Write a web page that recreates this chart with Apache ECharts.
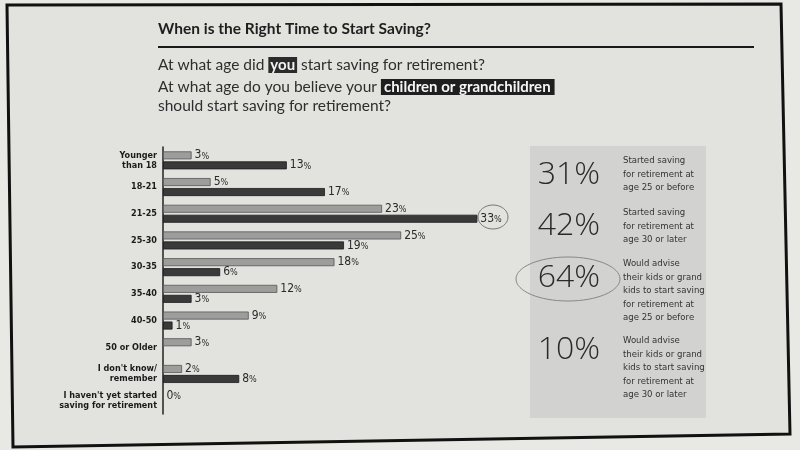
<!DOCTYPE html>
<html><head><meta charset="utf-8">
<script src="https://cdn.jsdelivr.net/npm/echarts@6/dist/echarts.min.js"></script>
<style>html,body{margin:0;padding:0;background:#e6e6e2;}#c{width:800px;height:450px;}</style>
</head><body><div id="c"></div>
<script>
const categories = ['Younger\nthan 18','18-21','21-25','25-30','30-35','35-40','40-50','50 or Older','I don\'t know/\nremember','I haven\'t yet started\nsaving for retirement'];
const youValues = [3,5,23,25,18,12,9,3,2,0];
const kidsValues = [13,17,33,19,6,3,1,null,8,null];
const statNumbers = ['31%','42%','64%','10%'];
const statTexts = [
  'Started saving\nfor retirement at\nage 25 or before',
  'Started saving\nfor retirement at\nage 30 or later',
  'Would advise\ntheir kids or grand\nkids to start saving\nfor retirement at\nage 25 or before',
  'Would advise\ntheir kids or grand\nkids to start saving\nfor retirement at\nage 30 or later'
];

const chart = echarts.init(document.getElementById('c'));
const condensed = '"Liberation Sans Narrow","DejaVu Sans Condensed","Roboto",sans-serif';
const pctLabel = {
  show: true, position: 'right', distance: 3,
  formatter: p => p.value == null ? '' : '{n|' + p.value + '}{p|%}',
  rich: {
    n: {fontFamily: condensed, fontSize: 12, color: '#2a2a2a'},
    p: {fontFamily: condensed, fontSize: 9, color: '#2a2a2a', padding: [2,0,0,0]}
  }
};
const numY = [175, 226, 278, 350];
const txtY = [160, 212, 263, 340];
const subFont = '15.5px Lato, "Open Sans", sans-serif';
const graphics = [
  {type:'polygon', z:0, shape:{points:[[7,5],[781,4],[790,434],[13,447]]}, style:{fill:'#e2e2de', stroke:'#111', lineWidth:3}},
  {type:'text', left:158, top:21, style:{text:'When is the Right Time to Start Saving?', font:'bold 15.5px Lato, "Open Sans", sans-serif', fill:'#1e1e1e'}},
  {type:'line', shape:{x1:158,y1:47,x2:754,y2:47}, style:{stroke:'#1a1a1a', lineWidth:2}},
  {type:'text', left:158, top:57, style:{
    text:'At what age did {hl|you} start saving for retirement?',
    font:subFont, fill:'#2e2e2e',
    rich:{hl:{backgroundColor:'#2b2b2b', fill:'#f2f2f2', fontWeight:'bold', fontSize:15, fontFamily:'Lato, sans-serif', padding:[1,2,0,2]}}}},
  {type:'text', left:158, top:79, style:{
    text:'At what age do you believe your {hl|children or grandchildren}',
    font:subFont, fill:'#2e2e2e',
    rich:{hl:{backgroundColor:'#1f1f1f', fill:'#f5f5f5', fontWeight:'bold', fontSize:15, fontFamily:'Lato, sans-serif', padding:[1,4,0,3]}}}},
  {type:'text', left:158, top:98, style:{text:'should start saving for retirement?', font:subFont, fill:'#2e2e2e'}},
  {type:'rect', shape:{x:530,y:146,width:176,height:272}, style:{fill:'#d2d2d0'}},
  {type:'ellipse', shape:{cx:493,cy:217,rx:15,ry:12}, style:{fill:'none', stroke:'#777', lineWidth:1}},
  {type:'ellipse', shape:{cx:568,cy:279,rx:52,ry:22}, style:{fill:'none', stroke:'#888', lineWidth:1}}
];
statNumbers.forEach((s,i)=>{
  graphics.push({type:'text', x:569, y:numY[i], style:{text:s, font:'300 32px "Open Sans", Lato, sans-serif', fill:'#2a2a2a', align:'center', verticalAlign:'middle'}});
  graphics.push({type:'text', x:623, y:txtY[i]-6, style:{text:statTexts[i], font:'9.5px ' + condensed, fill:'#333', lineHeight:13.5}});
});

chart.setOption({
  backgroundColor:'#e8e8e4',
  animation:false,
  grid:{left:163, top:147, width:381, height:267, containLabel:false},
  xAxis:{type:'value', min:0, max:40, show:false},
  yAxis:{type:'category', data:categories, inverse:true,
    axisLine:{show:true, lineStyle:{color:'#222', width:1.5}},
    axisTick:{show:false},
    axisLabel:{margin:6, fontFamily:condensed, fontWeight:'bold', fontSize:9, color:'#1a1a1a', lineHeight:10, align:'right'}},
  series:[
    {name:'You', type:'bar', data:youValues, barWidth:8, barGap:'25%',
     itemStyle:{color:'#9d9d9b', borderColor:'#555', borderWidth:0.8}, label:pctLabel},
    {name:'Children or grandchildren', type:'bar', data:kidsValues, barWidth:8,
     itemStyle:{color:'#3a3a3a', borderColor:'#1a1a1a', borderWidth:0.8}, label:pctLabel}
  ],
  graphic: graphics
});
</script></body></html>
